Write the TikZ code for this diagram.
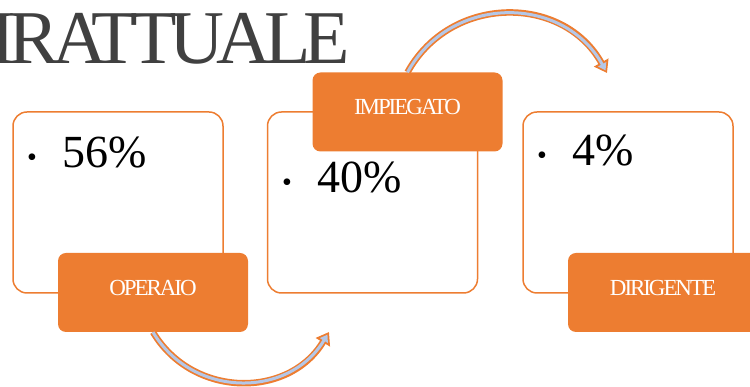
\documentclass[tikz,border=0pt]{standalone}
\usepackage{fontspec}
\setmainfont{Liberation Serif}
\newfontfamily\tightserif[LetterSpace=-9]{Liberation Serif}
\newfontfamily\titleserif[LetterSpace=-9.7]{Liberation Serif}
\usetikzlibrary{arrows.meta}
\definecolor{accent}{HTML}{ED7D31}
\definecolor{arrowfill}{HTML}{B4C7E7}
\definecolor{titlegray}{HTML}{404040}
\tikzset{
  card/.style={draw=accent,line width=1.5pt,fill=white,rectangle,rounded corners=14pt,minimum width=210pt,minimum height=181pt},
  tag/.style={fill=accent,rectangle,rounded corners=8pt,minimum width=190pt,minimum height=79pt,inner sep=0pt,
    text=white,text depth=10pt,font=\tightserif\fontsize{23}{23}\selectfont},
  pct/.style={anchor=base west,inner sep=0pt,font=\fontsize{46}{46}\selectfont},
  curvearrow/.style={line width=6.5pt,draw=accent,-{Triangle[width=16pt,length=12pt]},
    postaction={draw=arrowfill,line width=3pt,shorten >=3pt,-{Triangle[width=9pt,length=7pt]}}}
}
\newcommand{\dotmark}{\makebox[35pt][l]{\fontsize{28}{28}\selectfont\raisebox{1pt}{\textbullet}}}

\begin{document}
\begin{tikzpicture}[x=1pt,y=1pt]
\useasboundingbox (0,0) rectangle (750,387);
\clip (0,0) rectangle (750,387);
%title, cut at the left edge
\node [anchor=base east,inner sep=0pt,text=titlegray,font=\titleserif\fontsize{76}{76}\selectfont] (title) at(350,323){IRATTUALE};

\node [card] (c1) at(118,184.5){};
\node [card] (c2) at(372.5,184.5){};
\node [card] (c3) at(628,184.5){};

\node [pct] (p1) at(27,219){\dotmark 56\%};
\node [pct] (p2) at(282,194){\dotmark 40\%};
\node [pct] (p3) at(537,221){\dotmark 4\%};

\node [tag] (op) at(153,94.5){OPERAIO};
\node [tag] (imp) at(407.5,275){IMPIEGATO};
\node [tag] (dir) at(663,94.5){DIRIGENTE};

\coordinate (opend) at(329,55);
\coordinate (impend) at(607,314);
\draw[curvearrow](op.south) to[out=-59,in=-121,looseness=1.13] (opend);
\draw[curvearrow](imp.north) to[out=61,in=119,looseness=1.15] (impend);
\end{tikzpicture}
\end{document}
